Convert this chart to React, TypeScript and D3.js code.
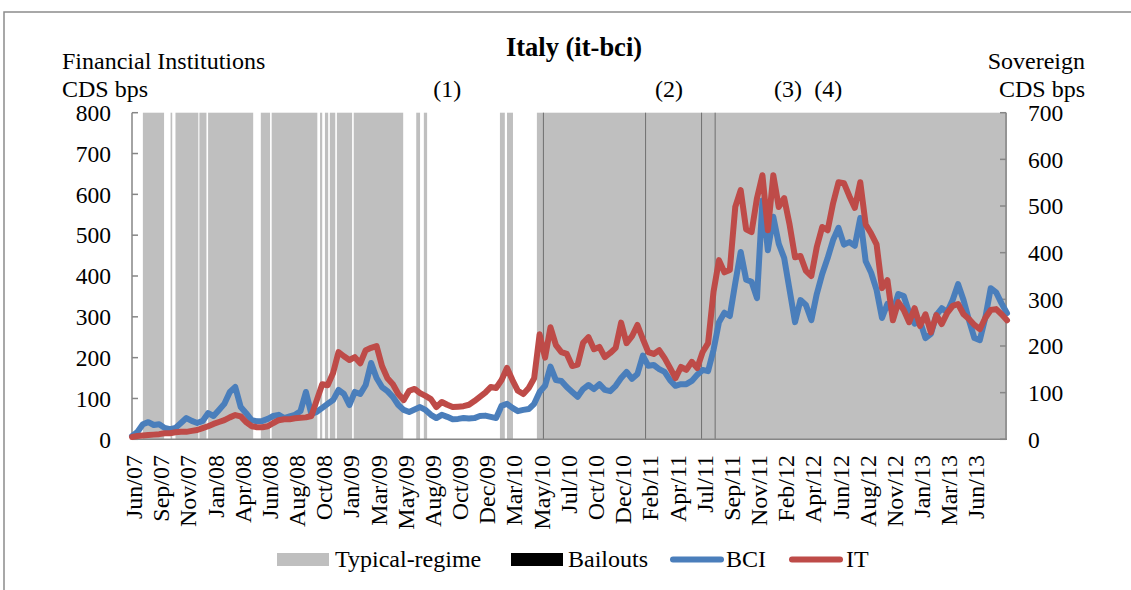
import React from "react";
import * as d3 from "d3";

// ---------- data ----------
// business-day index; one sample every 10 business days (Jun 2007 .. Aug 2013)
const totalDays = 1610;
const dayStep = 10;

const bciValues = [
  8, 18, 37, 42, 35, 37, 28, 25, 28, 40, 52, 45, 40, 45, 64, 57, 72, 87, 116, 128,
  79, 64, 47, 44, 45, 50, 57, 60, 52, 56, 60, 69, 116, 62, 67, 77, 87, 96, 121, 111,
  84, 116, 111, 133, 187, 150, 128, 118, 104, 84, 72, 67, 73, 79, 72, 60, 52, 60, 55, 49,
  50, 52, 51, 52, 57, 58, 55, 52, 82, 87, 77, 69, 72, 74, 87, 116, 131, 178, 145, 143,
  128, 116, 104, 123, 133, 123, 135, 121, 118, 131, 150, 165, 148, 160, 205, 180, 182, 172, 165, 145,
  131, 135, 135, 143, 158, 170, 167, 219, 287, 310, 302, 383, 459, 391, 386, 346, 585, 463, 545, 479,
  444, 366, 287, 341, 329, 292, 356, 405, 444, 488, 518, 477, 483, 474, 542, 436, 408, 366, 297, 332,
  312, 356, 351, 310, 283, 289, 248, 258, 304, 321, 312, 341, 380, 341, 292, 248, 243, 297, 370, 360,
  333, 309,
];

const itValues = [
  5, 7, 8, 9, 10, 11, 13, 13, 15, 16, 16, 18, 20, 24, 28, 33, 37, 41, 47, 52,
  49, 37, 28, 26, 26, 28, 35, 41, 43, 43, 45, 46, 47, 50, 84, 118, 116, 142, 187, 178,
  170, 176, 163, 191, 196, 200, 157, 131, 118, 97, 84, 104, 108, 99, 93, 86, 69, 80, 74, 69,
  70, 71, 74, 82, 91, 100, 112, 110, 127, 153, 127, 104, 97, 110, 131, 225, 175, 240, 202, 187,
  183, 157, 160, 207, 219, 193, 198, 176, 185, 196, 250, 206, 221, 245, 215, 187, 183, 191, 174, 153,
  131, 155, 149, 166, 153, 187, 206, 316, 384, 358, 363, 498, 534, 450, 444, 517, 566, 448, 566, 498,
  517, 460, 390, 393, 361, 350, 412, 455, 448, 506, 551, 549, 521, 496, 551, 460, 441, 418, 324, 341,
  255, 294, 277, 251, 281, 243, 268, 229, 266, 247, 271, 286, 290, 268, 258, 245, 236, 260, 277, 279,
  268, 255,
];

const xLabels = [
  "Jun/07", "Sep/07", "Nov/07", "Jan/08", "Apr/08", "Jun/08", "Aug/08", "Oct/08",
  "Jan/09", "Mar/09", "May/09", "Aug/09", "Oct/09", "Dec/09", "Mar/10", "May/10",
  "Jul/10", "Oct/10", "Dec/10", "Feb/11", "Apr/11", "Jul/11", "Sep/11", "Nov/11",
  "Feb/12", "Apr/12", "Jun/12", "Aug/12", "Nov/12", "Jan/13", "Mar/13", "Jun/13",
];
const labelFirstDay = 3;
const labelEveryDays = 50;

const leftTicks = [0, 100, 200, 300, 400, 500, 600, 700, 800];
const rightTicks = [0, 100, 200, 300, 400, 500, 600, 700];

// typical-regime periods [startDay, endDay]
const typicalRegime: [number, number][] = [
  [20, 59], [71, 74], [80, 122], [124, 137], [140, 223], [237, 254], [257, 341],
  [346, 350], [355, 361], [364, 374], [377, 405], [408, 499], [523, 530], [537, 543],
  [677, 686], [690, 701], [745, 1610],
];

const bailoutDays = [757, 945, 1048, 1073];

const eventMarkers = [
  { label: "(1)", day: 580 },
  { label: "(2)", day: 988 },
  { label: "(3)", day: 1207 },
  { label: "(4)", day: 1281 },
];

// ---------- layout ----------
const W = 1131;
const H = 590;
const plotLeft = 132;
const plotRight = 1007;
const plotTop = 112.7;
const plotBottom = 439.3;
const FONT = "'Liberation Serif', 'Times New Roman', serif";
const BLUE = "#4A7EBB";
const RED = "#BE4B48";
const GRAY = "#BFBFBF";
const AXIS = "#868686";

export default function App() {
  const x = d3.scaleLinear().domain([0, totalDays]).range([plotLeft, plotRight]);
  const yL = d3.scaleLinear().domain([0, 800]).range([plotBottom, plotTop]);
  const yR = d3.scaleLinear().domain([0, 700]).range([plotBottom, plotTop]);

  const bciLine = d3
    .line<number>()
    .x((_, i) => x(i * dayStep))
    .y((d) => yL(d));
  const itLine = d3
    .line<number>()
    .x((_, i) => x(i * dayStep))
    .y((d) => yR(d));

  const fs = 24;
  const tfs = 23.5;

  return (
    <svg
      width={W}
      height={H}
      style={{ position: "absolute", left: 0, top: 0, background: "#fff" }}
      fontFamily={FONT}
    >
      {/* outer frame */}
      <path d={`M4,${H + 5} L4,12 L${W + 5},12`} fill="none" stroke="#8c8c8c" strokeWidth={1.5} />

      {/* typical regime bands */}
      {typicalRegime.map(([a, b], i) => (
        <rect
          key={"b" + i}
          x={x(a)}
          y={plotTop}
          width={x(b) - x(a)}
          height={plotBottom - plotTop}
          fill={GRAY}
        />
      ))}

      {/* bailouts */}
      {bailoutDays.map((d, i) => (
        <line
          key={"bo" + i}
          x1={x(d)}
          x2={x(d)}
          y1={plotTop}
          y2={plotBottom}
          stroke="#6f6f6f"
          strokeWidth={1}
        />
      ))}

      {/* axes */}
      <line x1={plotLeft} x2={plotLeft} y1={plotTop} y2={plotBottom} stroke={AXIS} strokeWidth={1.5} />
      <line x1={plotRight - 1} x2={plotRight - 1} y1={plotTop} y2={plotBottom} stroke={AXIS} strokeWidth={1.5} />
      <line x1={plotLeft} x2={plotRight} y1={plotBottom} y2={plotBottom} stroke={AXIS} strokeWidth={1.5} />
      {leftTicks.map((t) => (
        <g key={"lt" + t}>
          <line x1={plotLeft} x2={plotLeft + 6} y1={yL(t)} y2={yL(t)} stroke={AXIS} strokeWidth={1.5} />
          <text x={111} y={yL(t)} dy="0.35em" textAnchor="end" fontSize={tfs}>
            {t}
          </text>
        </g>
      ))}
      {rightTicks.map((t) => (
        <g key={"rt" + t}>
          <line x1={plotRight - 7} x2={plotRight - 1} y1={yR(t)} y2={yR(t)} stroke={AXIS} strokeWidth={1.5} />
          <text x={1028} y={yR(t)} dy="0.35em" textAnchor="start" fontSize={tfs}>
            {t}
          </text>
        </g>
      ))}
      {xLabels.map((lab, i) => {
        const xx = x(labelFirstDay + i * labelEveryDays);
        return (
          <text
            key={"xl" + i}
            transform={`translate(${xx},455) rotate(-90)`}
            dy="0.35em"
            textAnchor="end"
            fontSize={fs}
          >
            {lab}
          </text>
        );
      })}

      {/* series */}
      <path d={bciLine(bciValues) || ""} fill="none" stroke={BLUE} strokeWidth={6} strokeLinejoin="round" strokeLinecap="round" />
      <path d={itLine(itValues) || ""} fill="none" stroke={RED} strokeWidth={6} strokeLinejoin="round" strokeLinecap="round" />

      {/* titles */}
      <text x={574} y={56} textAnchor="middle" fontSize={26.5} fontWeight="bold">
        Italy (it-bci)
      </text>
      <text x={62} y={69} fontSize={fs}>Financial Institutions</text>
      <text x={62} y={97} fontSize={fs}>CDS bps</text>
      <text x={1085} y={69} fontSize={fs} textAnchor="end">Sovereign</text>
      <text x={1085} y={97} fontSize={fs} textAnchor="end">CDS bps</text>
      {eventMarkers.map((m) => (
        <text key={m.label} x={x(m.day)} y={97} fontSize={fs} textAnchor="middle">
          {m.label}
        </text>
      ))}

      {/* legend */}
      <rect x={277} y={553} width={52} height={13} fill={GRAY} />
      <text x={335} y={567} fontSize={fs}>Typical-regime</text>
      <rect x={511} y={553} width={52} height={13} fill="#000" />
      <text x={568} y={567} fontSize={fs}>Bailouts</text>
      <line x1={673} x2={721} y1={559.5} y2={559.5} stroke={BLUE} strokeWidth={6} strokeLinecap="round" />
      <text x={726} y={567} fontSize={fs}>BCI</text>
      <line x1={792} x2={840} y1={559.5} y2={559.5} stroke={RED} strokeWidth={6} strokeLinecap="round" />
      <text x={846} y={567} fontSize={fs}>IT</text>
    </svg>
  );
}
